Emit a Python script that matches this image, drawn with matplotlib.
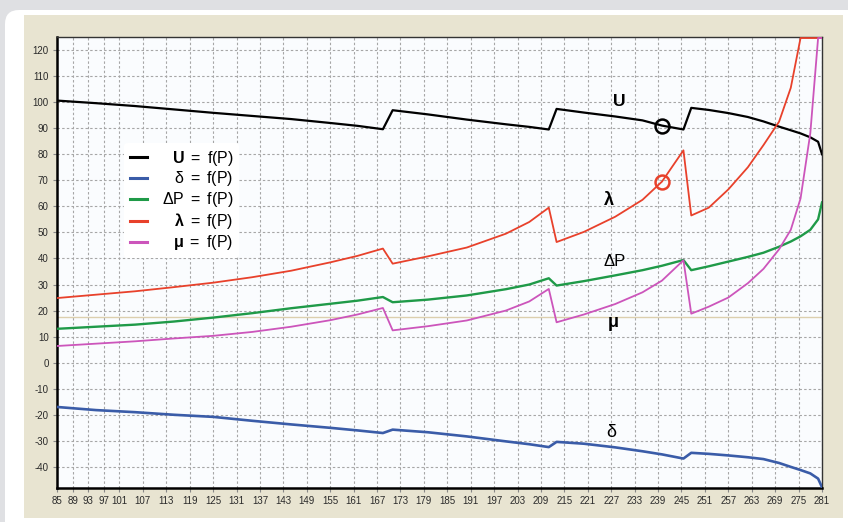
import matplotlib
matplotlib.use("Agg")
import matplotlib.pyplot as plt
from matplotlib.patches import FancyBboxPatch, Rectangle
from matplotlib.transforms import IdentityTransform

plt.rcParams['font.family'] = ['Liberation Sans', 'DejaVu Sans']
plt.rcParams['mathtext.fontset'] = 'custom'
plt.rcParams['mathtext.rm'] = 'Liberation Sans'
plt.rcParams['mathtext.bf'] = 'Liberation Sans:bold'
plt.rcParams['mathtext.it'] = 'Liberation Sans:italic'
plt.rcParams['axes.unicode_minus'] = False

# ---------------- data ----------------
P = [85, 95, 105, 115, 125, 135, 145, 155, 162, 168.5,
     171, 180, 190, 200, 206, 211,
     213, 220, 228, 235, 240, 245.5,
     247.5, 252, 257, 262, 266, 270, 273, 275.5, 278, 280, 281]

U = [100.6, 99.6, 98.5, 97.2, 95.9, 94.7, 93.5, 92.0, 90.9, 89.6,
     96.9, 95.3, 93.3, 91.5, 90.5, 89.5,
     97.4, 96.0, 94.5, 93.0, 91.0, 89.5,
     97.8, 97.0, 95.8, 94.3, 92.6, 90.6, 89.2, 88.0, 86.5, 84.8, 80.0]

delta = [-17.0, -18.2, -19.0, -20.0, -20.8, -22.3, -23.7, -25.0, -26.0, -27.0,
         -25.7, -26.7, -28.3, -30.2, -31.3, -32.4,
         -30.4, -31.1, -32.5, -34.0, -35.2, -36.8,
         -34.6, -35.0, -35.6, -36.3, -37.0, -38.5, -40.0, -41.2, -42.5, -44.5, -47.8]

dP = [13.0, 13.8, 14.6, 15.8, 17.3, 19.0, 20.9, 22.6, 23.8, 25.2,
      23.2, 24.2, 25.8, 28.2, 30.0, 32.4,
      29.6, 31.3, 33.5, 35.5, 37.2, 39.4,
      35.5, 37.0, 38.8, 40.6, 42.2, 44.5, 46.5, 48.5, 51.0, 55.0, 61.5]

lam = [24.8, 26.1, 27.4, 29.0, 30.7, 32.8, 35.3, 38.5, 41.0, 43.8,
       38.0, 40.8, 44.2, 49.5, 54.0, 59.5,
       46.3, 50.2, 56.0, 62.5, 69.5, 81.5,
       56.5, 59.5, 66.5, 75.0, 83.5, 92.5, 105.5, 124.6, 124.6, 124.6, 124.6]

mu = [6.4, 7.3, 8.2, 9.3, 10.3, 11.8, 13.8, 16.3, 18.5, 21.0,
      12.4, 14.0, 16.2, 20.0, 23.5, 28.3,
      15.5, 18.5, 22.5, 27.0, 31.5, 39.3,
      18.8, 21.5, 25.0, 30.5, 36.0, 43.5, 51.0, 63.0, 88.0, 124.6, 124.6]

ref_level = 17.7
marker_P = [240, 240]
marker_vals = [90.9, 69.5]
marker_colors = ['black', '#e8412b']

xticks = [85, 89, 93, 97] + list(range(101, 282, 6))
yticks = list(range(-40, 121, 10))

labels = [r'$\mathbf{U}\mathrm{\ =\ f(P)}$', r'$\mathrm{δ\ =\ f(P)}$', r'$\mathrm{ΔP\ =\ f(P)}$',
          r'$\mathbf{λ}\mathrm{\ =\ f(P)}$', r'$\mathbf{μ}\mathrm{\ =\ f(P)}$']
colors = ['black', '#3a5ca8', '#1f9a48', '#e8412b', '#cc55bb']
widths = [1.6, 1.9, 1.7, 1.3, 1.3]

# curve name annotations: (text, P, value, weight, size)
ann = [('U', 229, 100.3, 'bold', 12.5),
       ('λ', 226.5, 62.3, 'bold', 13),
       ('ΔP', 227.8, 38.8, 'normal', 12),
       ('μ', 227.5, 15.5, 'bold', 13),
       ('δ', 227.0, -26.7, 'normal', 13)]

# ---------------- figure ----------------
W, H = 848, 522
fig = plt.figure(figsize=(W / 100, H / 100), dpi=100)
fig.patch.set_facecolor('#dfe0e3')
fig.patches.append(FancyBboxPatch((5, -20), 870, 532, boxstyle='round,pad=0,rounding_size=14',
                                  transform=IdentityTransform(), facecolor='white',
                                  edgecolor='none', zorder=-10, figure=fig))
fig.patches.append(Rectangle((24, 4), 819, 503, transform=IdentityTransform(),
                             facecolor='#e8e4d1', edgecolor='none', zorder=-9, figure=fig))

ax = fig.add_axes([57 / W, 34 / H, 765 / W, 451 / H])
ax.set_facecolor('#fafcfe')

ax.axhline(ref_level, color='#dccfae', lw=1.0, zorder=2)

series = [U, delta, dP, lam, mu]
for ys, lab, c, lw in zip(series, labels, colors, widths):
    ax.plot(P, ys, color=c, lw=lw, label=lab, zorder=3, solid_joinstyle='round')

for px, v, c in zip(marker_P, marker_vals, marker_colors):
    ax.plot([px], [v], marker='o', ms=10, mfc='none', mec=c, mew=1.8, zorder=4)

for t, px, v, w, s in ann:
    ax.text(px, v, t, ha='center', va='center', fontsize=s, fontweight=w, color='black', zorder=5)

ax.set_xlim(85, 281)
ax.set_ylim(-48.1, 125.0)
ax.set_xticks(xticks)
ax.set_yticks(yticks)
ax.tick_params(axis='both', labelsize=7, labelcolor='#2a2a2a', length=3, width=0.8,
               pad=3, color='#888888')

ax.grid(True, color='#a6a6a6', lw=0.8, ls=(0, (2.2, 2.0)), zorder=1)
ax.set_axisbelow(True)

for side in ['left', 'bottom']:
    ax.spines[side].set_linewidth(1.8)
    ax.spines[side].set_color('black')
for side in ['top', 'right']:
    ax.spines[side].set_linewidth(1.0)
    ax.spines[side].set_linestyle((0, (2, 1)))
    ax.spines[side].set_color('#333333')

leg = ax.legend(loc='upper left', bbox_to_anchor=(0.088, 0.765), fontsize=11.5,
                handlelength=1.1, handletextpad=0.9, labelspacing=0.12,
                frameon=True, framealpha=1, facecolor='white', edgecolor='none',
                borderpad=0.35, borderaxespad=0)
leg.set_zorder(6)
for h in leg.get_lines():
    h.set_linewidth(2.2)

fig.canvas.draw()
renderer = fig.canvas.get_renderer()
tw = [t.get_window_extent(renderer).width for t in leg.get_texts()]
mw = max(tw)
for t, w in zip(leg.get_texts(), tw):
    t.set_position((mw - w, 0))

fig.savefig('out.png', dpi=100, facecolor=fig.get_facecolor())
